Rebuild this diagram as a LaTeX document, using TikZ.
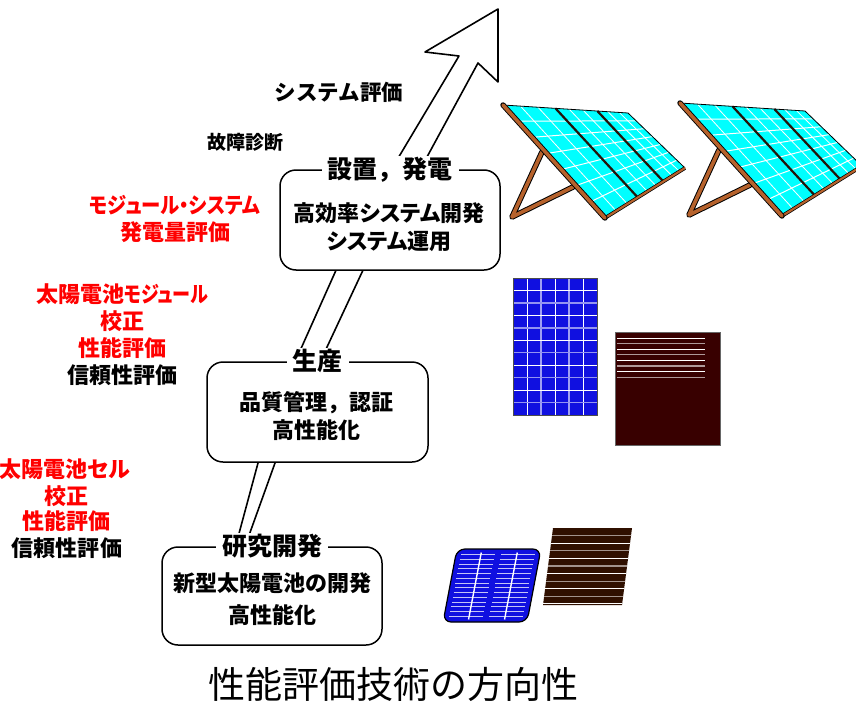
\documentclass[tikz,border=0pt]{standalone}
\usepackage{fontspec}
\usetikzlibrary{calc}
\newfontfamily\jpp{Noto Sans CJK JP}[RawFeature=+palt]
\newfontfamily\jpf{Noto Sans CJK JP}
\newcommand\narrowkana[2][0.84]{\scalebox{#1}[1]{#2}}
\definecolor{cellblue}{RGB}{16,16,224}
\definecolor{waferbrown}{RGB}{56,0,0}
\definecolor{filmbrown}{RGB}{48,16,0}
\definecolor{rackbrown}{RGB}{182,98,44}
\definecolor{panelcyan}{RGB}{0,255,255}
\begin{document}
\begin{tikzpicture}[x=1pt,y=-1pt,
  stagebox/.style={draw, line width=1.5, rounded corners=16, fill=white, inner sep=0},
  stagehead/.style={font=\jpf\bfseries\fontsize{25}{30}\selectfont, fill=white, inner xsep=6, inner ysep=1},
  body/.style={font=\jpf\bfseries\fontsize{22}{26}\selectfont, inner sep=0},
  bodyp/.style={font=\jpp\bfseries\fontsize{22}{26}\selectfont, inner sep=0},
  note/.style={font=\jpp\bfseries\fontsize{22}{26}\selectfont, inner sep=0, text=red},
  notek/.style={font=\jpp\bfseries\fontsize{22}{26}\selectfont, inner sep=0, text=black},
  plainnote/.style={font=\jpf\bfseries\fontsize{21.5}{26}\selectfont, inner sep=0},
  arrowline/.style={line width=1.6, line join=round},
]
\useasboundingbox (0,0) rectangle (856,701);

% ---------- solar arrays on racks ----------
\begin{scope}
\clip (0,0) rectangle (856,701);
\foreach \dx/\dy in {0/0,177/-2}{
\begin{scope}[shift={(\dx,\dy)}]
  \coordinate (A) at (503,105);
  \coordinate (B) at (628,113);
  \coordinate (C) at (685,168);
  \coordinate (D) at (605,218);
  % rack legs
  \draw[line width=5.6, black, line cap=round, line join=round] (542,152) -- (512,217) -- (573,187);
  \draw[line width=3.6, rackbrown, line cap=round, line join=round] (542,152) -- (512,217) -- (573,187);
  % panel surface
  \fill[panelcyan] (A) -- (B) -- (C) -- (D) -- cycle;
  \foreach \s in {0.143,0.286,0.429,0.571,0.714,0.857}
    \draw[white, line width=1] ($(A)!\s!(D)$) -- ($(B)!\s!(C)$);
  \foreach \u in {0.14,0.28,0.53,0.64,0.84,0.93}
    \draw[white, line width=0.8] ($(A)!\u!(B)$) -- ($(D)!\u!(C)$);
  % module dividers
  \draw[line width=2.2, black!80!rackbrown] ($(A)!0.42!(B)$) -- ($(D)!0.41!(C)$);
  \draw[line width=2.2, black!80!rackbrown] ($(A)!0.755!(B)$) -- ($(D)!0.73!(C)$);
  \draw[line width=0.8, black] (A) -- (B) -- (C);
  % frame
  \draw[line width=3.6, black] (D) -- (C);
  \draw[line width=2.2, rackbrown] (D) -- (C);
  \draw[line width=5.4, black, line cap=round] (A) -- (D);
  \draw[line width=3.6, rackbrown, line cap=round] (A) -- (D);
\end{scope}
}
\end{scope}

% ---------- module (blue) ----------
\fill[cellblue] (513,278) rectangle (597,415);
\foreach \x [count=\i] in {527,541,555,569,583}{
  \ifodd\i \draw[white, line width=1] (\x,278) -- (\x,415);
  \else \draw[white!60!cellblue, line width=1.4] (\x,278) -- (\x,415); \fi}
\foreach \k in {1,...,10}{
  \ifodd\k \draw[white, line width=1] (513,278+12.45*\k) -- (597,278+12.45*\k);
  \else \draw[white!55!cellblue, line width=1.4] (513,278+12.45*\k) -- (597,278+12.45*\k); \fi}
\draw[black!70, line width=0.8] (513,278) rectangle (597,415);

% ---------- module (dark thin film) ----------
\fill[waferbrown] (615,332) rectangle (720,445);
\foreach \k in {0,...,7}{
  \ifodd\k \draw[white!60!waferbrown, line width=1.2] (617,338+5.6*\k) -- (705,338+5.6*\k);
  \else \draw[white, line width=1] (617,338+5.6*\k) -- (705,338+5.6*\k); \fi}
\draw[black!60, line width=1] (615,332) rectangle (720,445);

% ---------- single cell (blue) ----------
\begin{scope}[shift={(492,585.5)}, xslant=0.19]
  \fill[cellblue, draw=black, line width=1.2, rounded corners=8] (-42,-36.5) rectangle (42,36.5);
  \foreach \k in {0,...,13}{
    \draw[white!75!cellblue, line width=1] (-37,-31+4.75*\k) -- (-3,-31+4.75*\k);
    \draw[white!75!cellblue, line width=1] (3,-31+4.75*\k) -- (37,-31+4.75*\k);}
  \draw[white, line width=1.4] (-17,-33) -- (-17,34);
  \draw[white, line width=1.4] (19,-33) -- (19,34);
\end{scope}

% ---------- single cell (thin film) ----------
\begin{scope}[shift={(587.5,566.5)}, xslant=0.13]
  \fill[filmbrown] (-39.5,-38.5) rectangle (39.5,38.5);
  \foreach \k in {0,...,9}{
    \ifodd\k \draw[white, line width=1] (-39.5,-31+7.6*\k) -- (39.5,-31+7.6*\k);
    \else \draw[white!55!filmbrown, line width=1.2] (-39.5,-31+7.6*\k) -- (39.5,-31+7.6*\k); \fi}
\end{scope}

% ---------- development arrow ----------
\coordinate (l0) at (234,552);
\coordinate (l1) at (258,463);
\coordinate (l2) at (295,362);
\coordinate (l3) at (337,268);
\coordinate (l4) at (391,170);
\coordinate (ln) at (459,56);
\coordinate (bl) at (425,52);
\coordinate (tip) at (498,9);
\coordinate (br) at (498,82);
\coordinate (rn) at (478,63);
\coordinate (r4) at (421,168);
\coordinate (r3) at (364,268);
\coordinate (r2) at (320,362);
\coordinate (r1) at (275,463);
\coordinate (r0) at (243,552);
\draw[arrowline] (l0) -- (l1) -- (l2) -- (l3) -- (l4) -- (ln) -- (bl) -- (tip)
  -- (br) -- (rn) -- (r4) -- (r3) -- (r2) -- (r1) -- (r0);

% ---------- stage boxes ----------
\node[stagebox, minimum width=220, minimum height=100] (install) at (390,220) {};
\node[stagebox, minimum width=221, minimum height=100] (produce) at (317.5,412) {};
\node[stagebox, minimum width=220, minimum height=98] (research) at (272,596) {};

\node[stagehead] (installhead) at (install.north) {設置，発電};
\node[stagehead] (producehead) at (produce.north) {生産};
\node[stagehead] (researchhead) at (research.north) {研究開発};

\node[bodyp] (inst1) at (389,213) {高効率システム開発};
\node[bodyp] (inst2) at (389,241) {システム運用};
\node[body] (prod1) at (316,403) {品質管理，認証};
\node[body] (prod2) at (316,430) {高性能化};
\node[body] (res1) at (272,583) {新型太陽電池の開発};
\node[body] (res2) at (272,615) {高性能化};

% ---------- evaluation items ----------
\node[plainnote] (sysev) at (339,92) {システム評価};
\node[plainnote, font=\jpf\bfseries\fontsize{19}{23}\selectfont] (fault) at (245,142) {故障診断};
\node[note] (modsys) at (175,205) {\narrowkana[0.88]{モジュール・システム}};
\node[note] (yield) at (175,232) {発電量評価};
\node[note] (modcell) at (122,294) {太陽電池\narrowkana[0.82]{モジュール}};
\node[note] (modcal) at (122,321) {校正};
\node[note] (modperf) at (122,348) {性能評価};
\node[notek] (modrel) at (122,375) {信頼性評価};
\node[note] (cell) at (65,469) {太陽電池セル};
\node[note] (cellcal) at (66,496) {校正};
\node[note] (cellperf) at (66,521) {性能評価};
\node[notek] (cellrel) at (67,548) {信頼性評価};

% ---------- caption ----------
\node[font=\jpf\fontsize{37}{44}\selectfont, inner sep=0] (caption) at (393,684) {性能評価技術の方向性};
\end{tikzpicture}
\end{document}
